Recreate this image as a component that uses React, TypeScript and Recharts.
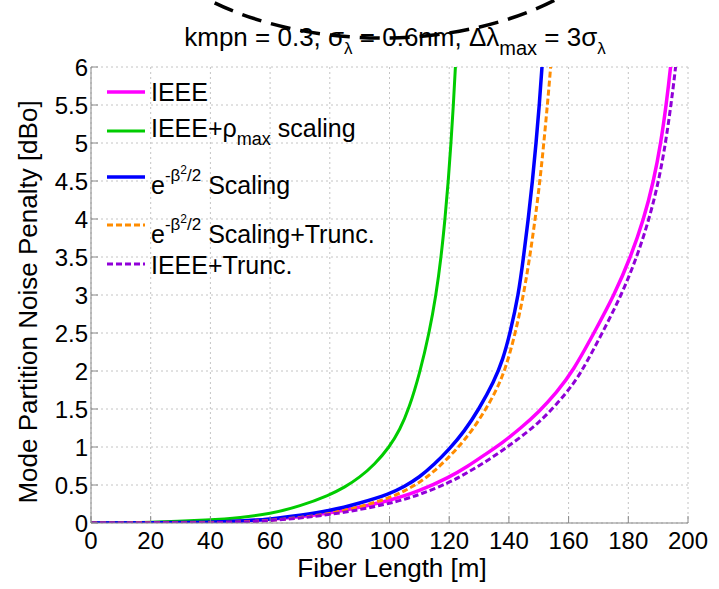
import React from "react";
import { LineChart, Line, XAxis, YAxis, CartesianGrid } from "recharts";

const lengthTicks = [0, 20, 40, 60, 80, 100, 120, 140, 160, 180, 200];
const penaltyTicks = [0, 0.5, 1, 1.5, 2, 2.5, 3, 3.5, 4, 4.5, 5, 5.5, 6];

// IEEE
const ieeeLength = [0, 20, 40, 60, 80, 100, 110, 120, 126, 132, 138, 144, 150, 156, 161.5, 168.5, 175.3, 180.8, 185.2, 188.5, 190.9, 192.7, 194.2, 195.4];
const ieeePenalty = [0, 0.002, 0.01, 0.04, 0.12, 0.29, 0.42, 0.6, 0.74, 0.9, 1.06, 1.25, 1.46, 1.72, 2.0, 2.5, 3.0, 3.5, 4.0, 4.5, 5.0, 5.5, 6.0, 6.5];

// IEEE + rho_max scaling
const rhoLength = [0, 20, 40, 50, 60, 70, 80, 85, 90, 95, 100, 103.5, 106.5, 110.2, 113.3, 115.6, 117.3, 118.6, 119.7, 120.6, 121.4, 122.1, 122.8];
const rhoPenalty = [0, 0.004, 0.04, 0.07, 0.12, 0.22, 0.37, 0.47, 0.6, 0.77, 1.0, 1.23, 1.5, 1.98, 2.5, 3.0, 3.5, 4.0, 4.5, 5.0, 5.5, 6.0, 6.6];

// e^(-b^2/2) scaling
const betaLength = [0, 20, 40, 50, 60, 70, 80, 90, 100, 105, 110, 115, 120, 125, 130, 135, 138, 140.4, 143.2, 144.9, 146.5, 147.9, 149.1, 150.2, 151.1, 151.9];
const betaPenalty = [0, 0.002, 0.01, 0.025, 0.05, 0.1, 0.16, 0.26, 0.38, 0.48, 0.6, 0.77, 0.97, 1.2, 1.5, 1.86, 2.15, 2.5, 3.0, 3.5, 4.0, 4.5, 5.0, 5.5, 6.0, 6.5];

// e^(-b^2/2) scaling + truncation
const betaTruncLength = [0, 40, 50, 60, 70, 80, 90, 100, 105, 110, 115, 120, 125, 130, 135, 138.7, 142.2, 144.9, 147, 148.8, 150.4, 151.7, 152.9, 154, 155];
const betaTruncPenalty = [0, 0.005, 0.01, 0.035, 0.07, 0.12, 0.21, 0.33, 0.42, 0.53, 0.68, 0.87, 1.08, 1.35, 1.68, 2.0, 2.5, 3.0, 3.5, 4.0, 4.5, 5.0, 5.5, 6.0, 6.5];

// IEEE + truncation
const ieeeTruncLength = [0, 40, 50, 60, 80, 100, 110, 120, 126, 132, 138, 144, 150, 156, 161, 164.5, 171.3, 177.7, 182.9, 187, 190.2, 192.5, 194.3, 195.9, 197.1];
const ieeeTruncPenalty = [0, 0.003, 0.008, 0.03, 0.1, 0.25, 0.37, 0.53, 0.66, 0.8, 0.96, 1.13, 1.32, 1.56, 1.8, 2.0, 2.5, 3.0, 3.5, 4.0, 4.5, 5.0, 5.5, 6.0, 6.5];

const toPoints = (xs: number[], ys: number[]) =>
  xs.map((x, i) => ({ length: x, penalty: ys[i] }));

const series = [
  { key: "ieee", color: "#ff00ff", dash: undefined, width: 3.5, data: toPoints(ieeeLength, ieeePenalty) },
  { key: "rho", color: "#00cc00", dash: undefined, width: 3, data: toPoints(rhoLength, rhoPenalty) },
  { key: "beta", color: "#0000ff", dash: undefined, width: 3.5, data: toPoints(betaLength, betaPenalty) },
  { key: "betaTrunc", color: "#ff8c00", dash: "6 3", width: 3, data: toPoints(betaTruncLength, betaTruncPenalty) },
  { key: "ieeeTrunc", color: "#9000d8", dash: "6 3", width: 3, data: toPoints(ieeeTruncLength, ieeeTruncPenalty) },
];

const FONT = '"Liberation Sans", Arial, Helvetica, sans-serif';
const noTick = () => null;

function LegendRows() {
  const rows = [
    { s: series[0], lineY: 92, base: 101 },
    { s: series[1], lineY: 131, base: 137 },
    { s: series[2], lineY: 177, base: 194 },
    { s: series[3], lineY: 225, base: 243 },
    { s: series[4], lineY: 264, base: 274 },
  ];
  const label = (i: number) => {
    if (i === 0) return <>IEEE</>;
    if (i === 1)
      return (
        <>
          IEEE+ρ<tspan fontSize={18} dy={8}>max</tspan>
          <tspan dy={-8}> scaling</tspan>
        </>
      );
    if (i === 4) return <>IEEE+Trunc.</>;
    const rest = i === 2 ? " Scaling" : " Scaling+Trunc.";
    return (
      <>
        e<tspan fontSize={17} dy={-13}>-β</tspan>
        <tspan fontSize={12} dy={-7}>2</tspan>
        <tspan fontSize={17} dy={7}>/2</tspan>
        <tspan dy={13}>{rest}</tspan>
      </>
    );
  };
  return (
    <g>
      {rows.map((r, i) => (
        <g key={r.s.key}>
          <line x1={107} x2={145} y1={r.lineY} y2={r.lineY} stroke={r.s.color}
            strokeWidth={r.s.width} strokeDasharray={r.s.dash} />
          <text x={151} y={r.base} fontSize={25} fill="#000">{label(i)}</text>
        </g>
      ))}
    </g>
  );
}

export default function App() {
  return (
    <div style={{ position: "absolute", left: 0, top: 0, width: 719, height: 589, background: "#fff", fontFamily: FONT }}>
      <LineChart width={719} height={589} margin={{ top: 67, right: 31, bottom: 0, left: 0 }}>
        <CartesianGrid stroke="#c4c4c4" strokeDasharray="2 3" />
        <XAxis xAxisId={0} type="number" dataKey="length" domain={[0, 200]} ticks={lengthTicks}
          allowDataOverflow height={66} tickSize={-7} tickMargin={16}
          stroke="#888" tick={{ fill: "#000", fontSize: 24, fontFamily: FONT }} interval={0} />
        <XAxis xAxisId="top" orientation="top" type="number" domain={[0, 200]} ticks={lengthTicks}
          allowDataOverflow height={0} tickSize={-7} stroke="#888" tick={noTick} interval={0} />
        <YAxis yAxisId={0} type="number" domain={[0, 6]} ticks={penaltyTicks} allowDataOverflow
          width={91} tickSize={-7} tickMargin={10} stroke="#888"
          tick={{ fill: "#000", fontSize: 24, fontFamily: FONT }} interval={0} />
        <YAxis yAxisId="right" orientation="right" type="number" domain={[0, 6]} ticks={penaltyTicks}
          allowDataOverflow width={0} tickSize={-7} stroke="#888" tick={noTick} interval={0} />
        {series.map((s) => (
          <Line key={s.key} data={s.data} dataKey="penalty" type="basis" stroke={s.color}
            strokeWidth={s.width} strokeDasharray={s.dash} dot={false} activeDot={false}
            isAnimationActive={false} />
        ))}
      </LineChart>
      <svg width={719} height={589} style={{ position: "absolute", left: 0, top: 0, pointerEvents: "none", fontFamily: FONT }}>
        <text x={395} y={46} textAnchor="middle" fontSize={26} fill="#000">
          kmpn = 0.3, σ<tspan fontSize={17} dy={8}>λ</tspan>
          <tspan dy={-8}> = 0.6nm, Δλ</tspan>
          <tspan fontSize={20} dy={9}>max</tspan>
          <tspan dy={-9}> = 3σ</tspan>
          <tspan fontSize={17} dy={8}>λ</tspan>
        </text>
        <ellipse cx={382} cy={-112} rx={260} ry={150} fill="none" stroke="#000" strokeWidth={3.5} strokeDasharray="20 10" />
        <text transform="rotate(-90, 37, 302)" x={37} y={302} textAnchor="middle" fontSize={26} fill="#000">
          Mode Partition Noise Penalty [dBo]
        </text>
        <text x={392} y={577} textAnchor="middle" fontSize={26} fill="#000">Fiber Length [m]</text>
        <LegendRows />
      </svg>
    </div>
  );
}
